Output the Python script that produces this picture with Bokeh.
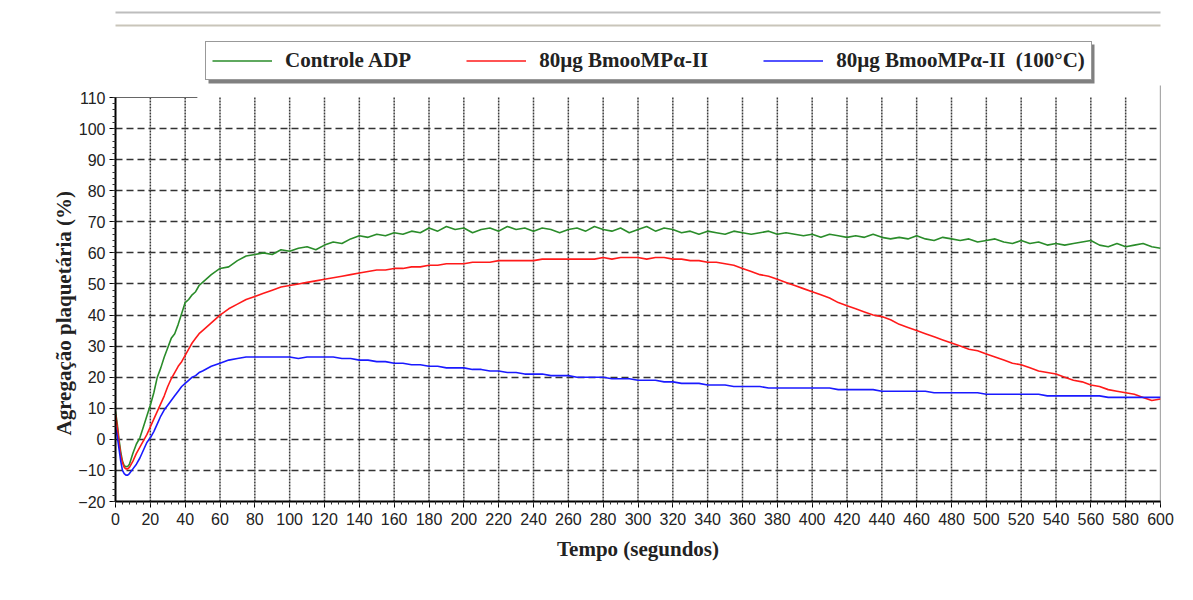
from bokeh.plotting import figure
from bokeh.models import Range1d, SingleIntervalTicker, FixedTicker, Legend, LegendItem, BoxAnnotation, Title
from bokeh.embed import file_html
from bokeh.resources import INLINE

# ---------------- data ----------------
time_s = list(range(0, 9)) + list(range(10, 51, 2)) + list(range(55, 601, 5))

controle_adp = [
    9.0, 5.0, 0.0, -4.0, -7.0, -8.5, -8.8, -8.7, -8.0,
    -4.5, -1.5, 0.5, 4.0, 7.5, 11.0, 15.0, 20.0, 23.0, 26.5, 29.5,
    32.5, 34.0, 37.0, 40.5, 44.0, 45.0, 46.5, 47.5, 49.5, 50.5,
    53.0, 55.0, 55.5, 57.5, 59.0, 59.5, 60.0, 59.5, 61.0, 60.5,
    61.5, 62.0, 61.0, 62.5, 63.5, 63.0, 64.5, 65.5, 65.0, 66.0,
    65.5, 66.5, 66.0, 67.0, 66.5, 68.0, 67.0, 68.5, 67.5, 68.0,
    66.5, 67.5, 68.0, 67.0, 68.5, 67.5, 68.0, 67.0, 68.0, 67.5,
    66.5, 67.5, 68.0, 67.0, 68.5, 67.5, 67.0, 68.0, 66.5, 67.5,
    68.5, 67.0, 68.0, 67.5, 66.5, 67.0, 66.0, 67.0, 66.5, 66.0,
    67.0, 66.5, 66.0, 66.5, 67.0, 66.0, 66.5, 66.0, 65.5, 66.0,
    65.0, 66.0, 65.5, 65.0, 65.5, 65.0, 66.0, 65.0, 64.5, 65.0,
    64.5, 65.5, 64.5, 64.0, 65.0, 64.5, 64.0, 64.5, 63.5, 64.0,
    64.5, 63.5, 63.0, 64.0, 63.0, 63.5, 62.5, 63.0, 62.5, 63.0,
    63.5, 64.0, 62.5, 62.0, 63.0, 62.0, 62.5, 63.0, 62.0, 61.5,
]

bmoo_80 = [
    8.0, 4.0, -1.0, -5.0, -7.5, -9.0, -9.5, -9.5, -9.0,
    -7.0, -4.5, -2.5, -0.5, 1.5, 4.0, 6.5, 9.0, 11.5, 14.0, 17.0,
    19.5, 21.5, 23.5, 25.0, 27.0, 29.0, 31.0, 32.5, 34.0, 35.0,
    37.5, 40.0, 42.0, 43.5, 45.0, 46.0, 47.0, 48.0, 49.0, 49.5,
    50.0, 50.5, 51.0, 51.5, 52.0, 52.5, 53.0, 53.5, 54.0, 54.5,
    54.5, 55.0, 55.0, 55.5, 55.5, 56.0, 56.0, 56.5, 56.5, 56.5,
    57.0, 57.0, 57.0, 57.5, 57.5, 57.5, 57.5, 57.5, 58.0, 58.0,
    58.0, 58.0, 58.0, 58.0, 58.0, 58.5, 58.0, 58.5, 58.5, 58.5,
    58.0, 58.5, 58.5, 58.0, 58.0, 57.5, 57.5, 57.0, 57.0, 56.5,
    56.0, 55.0, 54.0, 53.0, 52.5, 51.5, 50.5, 49.5, 48.5, 47.5,
    46.5, 45.5, 44.0, 43.0, 42.0, 41.0, 40.0, 39.5, 38.5, 37.0,
    36.0, 35.0, 34.0, 33.0, 32.0, 31.0, 30.0, 29.0, 28.5, 27.5,
    26.5, 25.5, 24.5, 24.0, 23.0, 22.0, 21.5, 21.0, 20.0, 19.0,
    18.5, 17.5, 17.0, 16.0, 15.5, 15.0, 14.5, 13.5, 12.5, 13.0,
]

bmoo_80_100c = [
    4.0, 1.0, -3.0, -7.0, -10.0, -11.0, -11.5, -11.5, -11.0,
    -9.5, -8.0, -6.0, -3.5, -1.0, 0.5, 2.5, 5.0, 7.5, 9.5, 11.0,
    12.5, 14.0, 15.5, 17.0, 18.0, 19.0, 20.0, 20.5, 21.5, 22.0,
    23.5, 24.5, 25.5, 26.0, 26.5, 26.5, 26.5, 26.5, 26.5, 26.5,
    26.0, 26.5, 26.5, 26.5, 26.5, 26.0, 26.0, 25.5, 25.5, 25.0,
    25.0, 24.5, 24.5, 24.0, 24.0, 23.5, 23.5, 23.0, 23.0, 23.0,
    22.5, 22.5, 22.0, 22.0, 21.5, 21.5, 21.0, 21.0, 21.0, 20.5,
    20.5, 20.5, 20.0, 20.0, 20.0, 20.0, 19.5, 19.5, 19.5, 19.0,
    19.0, 19.0, 18.5, 18.5, 18.0, 18.0, 18.0, 17.5, 17.5, 17.5,
    17.0, 17.0, 17.0, 17.0, 16.5, 16.5, 16.5, 16.5, 16.5, 16.5,
    16.5, 16.5, 16.0, 16.0, 16.0, 16.0, 16.0, 15.5, 15.5, 15.5,
    15.5, 15.5, 15.5, 15.0, 15.0, 15.0, 15.0, 15.0, 15.0, 14.5,
    14.5, 14.5, 14.5, 14.5, 14.5, 14.5, 14.0, 14.0, 14.0, 14.0,
    14.0, 14.0, 14.0, 13.5, 13.5, 13.5, 13.5, 13.5, 13.5, 13.5,
]

series_labels = ["Controle ADP", "80µg BmooMPα-II", "80µg BmooMPα-II  (100°C)"]
series_colors = ["#2a8c2a", "#ff1a1a", "#1a1aff"]

x_ticks = list(range(0, 601, 20))
y_ticks = list(range(-20, 111, 10))
y_minor = list(range(-20, 111, 2))

x_label = "Tempo (segundos)"
y_label = "Agregação plaquetária (%)"

assert len(time_s) == len(controle_adp) == len(bmoo_80) == len(bmoo_80_100c)

# ---------------- figure ----------------
# frame spans canvas y 8..501; data -20..110 occupies 97..501, space above holds the legend
Y_TOP = 110 + (97 - 8) * 130 / 404
p = figure(width=1193, height=600, output_backend="svg", toolbar_location=None,
           x_range=Range1d(0, 600), y_range=Range1d(-20, Y_TOP),
           min_border_left=115, min_border_right=33, min_border_top=8, min_border_bottom=99)
p.background_fill_color = "white"
p.border_fill_color = "white"
p.outline_line_color = None

# window frame lines of the original screenshot
for top, bot, col in [(11, 13, "#bdbdbd"), (24, 26, "#c9c5ba")]:
    p.add_layout(BoxAnnotation(left=0, right=1193, top=top, bottom=bot,
                               left_units="canvas", right_units="canvas",
                               top_units="canvas", bottom_units="canvas",
                               fill_color=col, fill_alpha=1.0, line_color=None))

# vertical dotted grid and plot border lines
p.segment(x0=x_ticks[1:-1], y0=[y_ticks[0]] * (len(x_ticks) - 2),
          x1=x_ticks[1:-1], y1=[y_ticks[-1]] * (len(x_ticks) - 2),
          line_color="#3a3a3a", line_width=1.5, line_dash="2 1")
p.segment(x0=[x_ticks[-1]], y0=[y_ticks[0]], x1=[x_ticks[-1]], y1=[113.9],
          line_color="#555555", line_width=1.2)
p.segment(x0=[x_ticks[0]], y0=[y_ticks[-1]], x1=[47], y1=[y_ticks[-1]],
          line_color="#666666", line_width=1.2)

renderers = []
for ys, col in zip([controle_adp, bmoo_80, bmoo_80_100c], series_colors):
    r = p.line(time_s, ys, line_color=col, line_width=1.6)
    renderers.append(r)

# axes
p.xaxis.ticker = SingleIntervalTicker(interval=20, num_minor_ticks=5)
p.yaxis.ticker = FixedTicker(ticks=y_ticks, minor_ticks=y_minor)
p.yaxis.bounds = (y_ticks[0], y_ticks[-1])
for ax in (p.xaxis[0], p.yaxis[0]):
    ax.axis_line_color = "black"
    ax.axis_line_width = 2
    ax.major_tick_in = 0
    ax.major_tick_out = 6
    ax.minor_tick_in = 0
    ax.minor_tick_out = 3
    ax.major_tick_line_color = "black"
    ax.minor_tick_line_color = "#333333"
    ax.major_label_text_font = "Liberation Sans"
    ax.major_label_text_font_size = "16px"
    ax.major_label_text_color = "#222222"
    ax.axis_label_text_font = "Liberation Serif"
    ax.axis_label_text_font_style = "bold"
    ax.axis_label_text_font_size = "21px"
    ax.axis_label_text_color = "#222222"
p.xaxis.axis_label = x_label
p.xaxis.major_label_standoff = 5
p.yaxis.major_label_standoff = 4
p.xaxis.axis_label_standoff = 9

# y-axis title, placed along the data part of the frame
p.add_layout(Title(text=y_label, align="left", offset=66, standoff=0,
                   text_font="Liberation Serif", text_font_style="bold",
                   text_font_size="21px", text_color="#222222"), "left")

# grids
p.xgrid.visible = False
p.ygrid.ticker = FixedTicker(ticks=y_ticks[1:-1])
p.ygrid.grid_line_color = "#333333"
p.ygrid.grid_line_dash = "7 4"
p.ygrid.grid_line_width = 1.6

# legend shadow
p.add_layout(BoxAnnotation(left=208, right=1094, top=44, bottom=83,
                           left_units="canvas", right_units="canvas",
                           top_units="canvas", bottom_units="canvas",
                           fill_color="#808080", fill_alpha=1.0, line_color=None))

legend = Legend(
    items=[LegendItem(label=lab, renderers=[r]) for lab, r in zip(series_labels, renderers)],
    orientation="horizontal", location=(90, 421),
    label_text_font="Liberation Serif", label_text_font_style="bold",
    label_text_font_size="21px", label_text_color="#222222",
    glyph_width=60, glyph_height=25, label_height=25, label_standoff=13, spacing=55,
    padding=6, margin=0,
    border_line_color="#333333", border_line_width=1.5,
    background_fill_color="white", background_fill_alpha=1.0,
)
p.add_layout(legend, "center")

open("out.html", "w").write(file_html(p, INLINE))
